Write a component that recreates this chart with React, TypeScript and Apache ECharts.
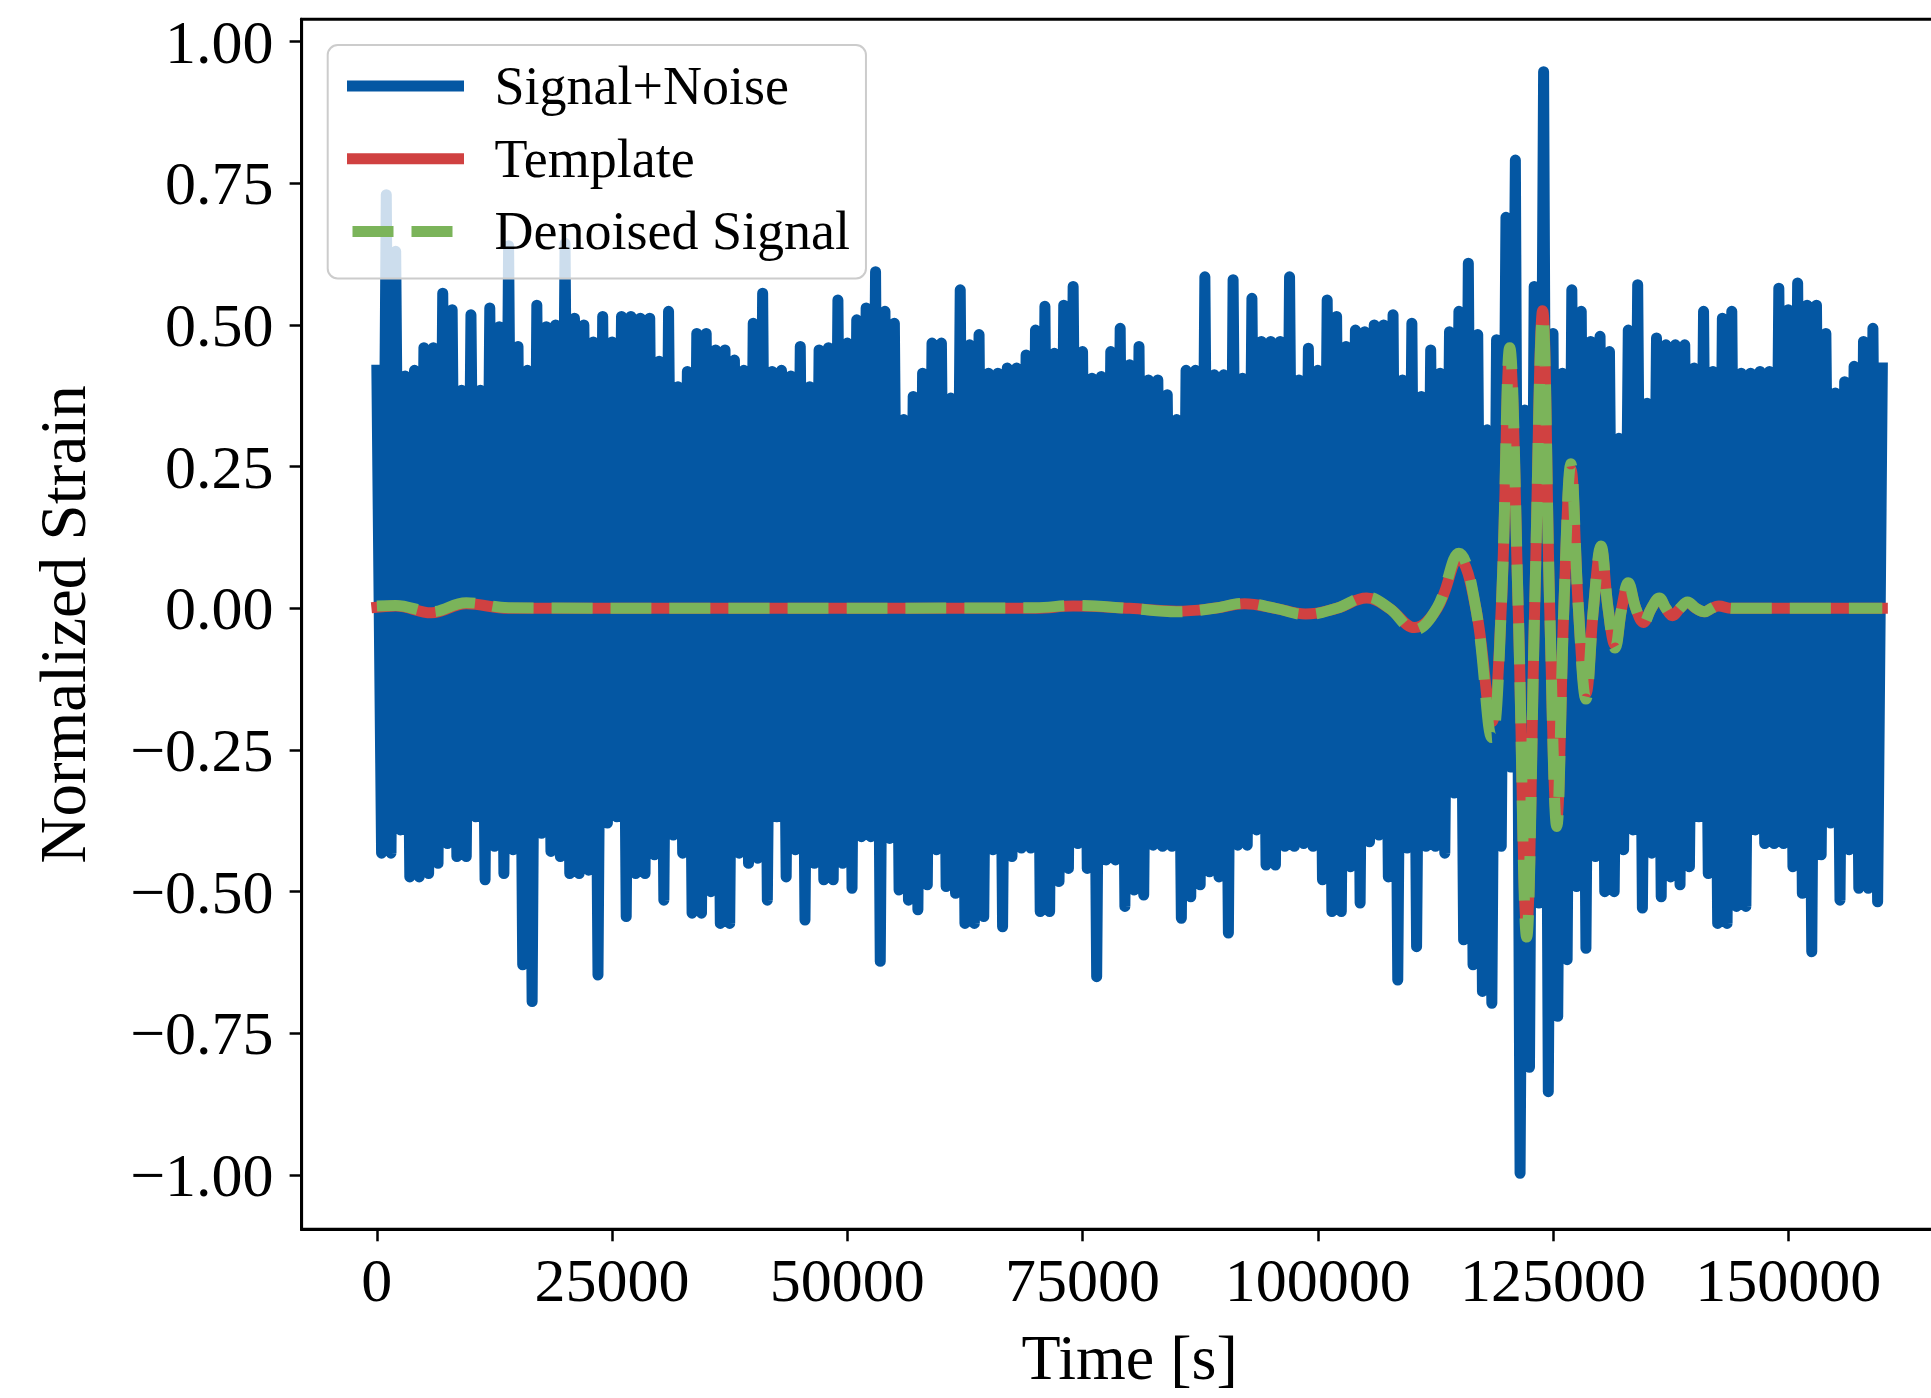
import React, { useEffect, useRef } from "react";
import * as echarts from "echarts";

// ---- data ----
// Signal+Noise envelope: upper extreme at t = k*1000 s, lower extreme at t = k*1000 + 500 s
const NOISE_STEP = 1000;
const noiseUpper = [
  0.42, 0.73, 0.63, 0.41, 0.42, 0.46, 0.46, 0.556, 0.527, 0.385,
  0.518, 0.385, 0.53, 0.497, 0.64, 0.462, 0.42, 0.535, 0.497, 0.5,
  0.644, 0.512, 0.5, 0.47, 0.515, 0.47, 0.515, 0.515, 0.512, 0.512,
  0.436, 0.524, 0.391, 0.418, 0.485, 0.485, 0.456, 0.456, 0.438, 0.42,
  0.503, 0.556, 0.418, 0.42, 0.41, 0.462, 0.391, 0.456, 0.46, 0.544,
  0.468, 0.509, 0.53, 0.594, 0.524, 0.503, 0.333, 0.374, 0.415, 0.468,
  0.468, 0.371, 0.562, 0.465, 0.483, 0.415, 0.415, 0.424, 0.424, 0.447,
  0.491, 0.533, 0.45, 0.535, 0.568, 0.453, 0.406, 0.409, 0.453, 0.494,
  0.43, 0.462, 0.403, 0.403, 0.377, 0.333, 0.42, 0.42, 0.585, 0.412,
  0.412, 0.58, 0.406, 0.547, 0.471, 0.471, 0.471, 0.585, 0.403, 0.459,
  0.42, 0.544, 0.515, 0.462, 0.491, 0.488, 0.5, 0.5, 0.518, 0.403,
  0.503, 0.374, 0.456, 0.415, 0.488, 0.524, 0.609, 0.483, 0.315, 0.474,
  0.69, 0.791, 0.35, 0.568, 0.947, 0.485, 0.415, 0.562, 0.524, 0.471,
  0.48, 0.453, 0.3, 0.491, 0.571, 0.362, 0.477, 0.465, 0.465, 0.465,
  0.424, 0.524, 0.418, 0.512, 0.524, 0.415, 0.415, 0.418, 0.418, 0.565,
  0.527, 0.574, 0.535, 0.535, 0.485, 0.38, 0.4, 0.427, 0.471, 0.494,
  0.424,
];
const noiseLower = [
  -0.432, -0.432, -0.391, -0.474, -0.474, -0.468, -0.45, -0.415, -0.438, -0.438,
  -0.368, -0.479, -0.42, -0.468, -0.426, -0.629, -0.694, -0.397, -0.429, -0.438,
  -0.468, -0.468, -0.462, -0.647, -0.379, -0.368, -0.544, -0.468, -0.468, -0.435,
  -0.515, -0.4, -0.432, -0.538, -0.538, -0.5, -0.556, -0.556, -0.432, -0.45,
  -0.441, -0.515, -0.368, -0.474, -0.426, -0.55, -0.45, -0.479, -0.479, -0.45,
  -0.494, -0.403, -0.403, -0.623, -0.406, -0.497, -0.515, -0.532, -0.488, -0.426,
  -0.491, -0.503, -0.556, -0.556, -0.544, -0.426, -0.562, -0.438, -0.423, -0.423,
  -0.535, -0.535, -0.482, -0.459, -0.415, -0.459, -0.65, -0.444, -0.444, -0.526,
  -0.497, -0.506, -0.418, -0.42, -0.42, -0.547, -0.509, -0.488, -0.465, -0.474,
  -0.573, -0.418, -0.418, -0.391, -0.453, -0.453, -0.42, -0.42, -0.415, -0.42,
  -0.479, -0.535, -0.535, -0.456, -0.52, -0.412, -0.4, -0.474, -0.656, -0.423,
  -0.597, -0.42, -0.42, -0.432, -0.326, -0.585, -0.629, -0.676, -0.697, -0.42,
  -0.28, -0.997, -0.81, -0.52, -0.853, -0.72, -0.62, -0.491, -0.6, -0.438,
  -0.5, -0.5, -0.426, -0.391, -0.529, -0.432, -0.509, -0.474, -0.488, -0.456,
  -0.368, -0.468, -0.556, -0.556, -0.526, -0.526, -0.391, -0.415, -0.415, -0.415,
  -0.456, -0.503, -0.606, -0.435, -0.379, -0.515, -0.426, -0.494, -0.494, -0.518,
];

// Template / denoised waveform (peaks, troughs and zero crossings)
const waveTime = [
  0, 2000, 5800, 9500, 14000, 40000, 70000, 74000, 80000, 85000,
  89000, 92200, 95500, 98700, 102000, 105200, 107600, 110300, 112700, 115000,
  116800, 118500, 119500, 120400, 121300, 122200, 123050, 123900, 124650, 125400,
  126150, 126900, 127700, 128500, 129300, 130100, 130850, 131600, 132300, 133000,
  133800, 134600, 135450, 136300, 137000, 137700, 138500, 139300, 140200, 141100,
  141850, 142600, 144000, 150000, 160000,
];
const templateValue = [
  0.002, 0.004, -0.008, 0.008, 0.0, 0.0, 0.0, 0.004, 0.0, -0.005,
  0.0, 0.008, 0.0, -0.01, 0.0, 0.018, 0.0, -0.034, 0.0, 0.088,
  0.0, -0.2, 0.0, 0.445, 0.0, -0.56, 0.0, 0.525, 0.0, -0.37,
  0.0, 0.245, 0.0, -0.15, 0.0, 0.105, 0.0, -0.065, 0.0, 0.042,
  0.0, -0.025, 0.0, 0.017, 0.0, -0.013, 0.0, 0.01, 0.0, -0.006,
  0.0, 0.004, 0.0, 0.0, 0.0,
];
const denoisedValue = [
  0.004, 0.005, -0.006, 0.01, 0.001, 0.0, 0.001, 0.005, 0.0, -0.006,
  0.0, 0.009, 0.0, -0.011, 0.0, 0.02, 0.0, -0.038, 0.002, 0.097,
  0.0, -0.228, 0.0, 0.46, 0.0, -0.58, 0.0, 0.515, 0.0, -0.385,
  0.0, 0.255, 0.0, -0.16, 0.0, 0.11, 0.0, -0.07, 0.0, 0.045,
  0.0, -0.027, 0.0, 0.018, 0.0, -0.014, 0.0, 0.011, 0.0, -0.006,
  0.0, 0.005, 0.0, 0.0, 0.0,
];

const xTicks = [0, 25000, 50000, 75000, 100000, 125000, 150000];
const yTicks = [-1, -0.75, -0.5, -0.25, 0, 0.25, 0.5, 0.75, 1];

const FONT = '"Liberation Serif", "DejaVu Serif", serif';
const BLUE = "#0457a3";
const RED = "#d04141";
const GREEN = "#7bb45a";

export default function App() {
  const ref = useRef<HTMLDivElement>(null);

  useEffect(() => {
    if (!ref.current) return;
    const chart = echarts.init(ref.current, null, { renderer: "svg" });

    const noiseData: [number, number][] = [];
    noiseUpper.forEach((u, k) => {
      noiseData.push([k * NOISE_STEP, u]);
      if (k < noiseLower.length) noiseData.push([k * NOISE_STEP + NOISE_STEP / 2, noiseLower[k]]);
    });
    const templateData = waveTime.map((t, i) => [t, templateValue[i]]);
    const denoisedData = waveTime.map((t, i) => [t, denoisedValue[i]]);

    const fmtY = (v: number) => (v < 0 ? "\u2212" : "") + Math.abs(v).toFixed(2);

    chart.setOption({
      animation: false,
      backgroundColor: "#ffffff",
      grid: {
        left: 301.6,
        top: 19.3,
        width: 1656,
        height: 1210,
        show: true,
        borderColor: "#000",
        borderWidth: 3,
        backgroundColor: "transparent",
        containLabel: false,
        outerBoundsMode: "none",
      },
      legend: {
        orient: "vertical",
        left: 327.7,
        top: 45,
        padding: [14, 16, 20, 19.3],
        itemWidth: 106,
        itemHeight: 20,
        itemGap: 18.7,
        selectedMode: false,
        backgroundColor: "rgba(255,255,255,0.8)",
        borderColor: "#cccccc",
        borderWidth: 2,
        borderRadius: 10,
        itemStyle: { opacity: 0 },
        lineStyle: { width: 11 },
        textStyle: {
          fontFamily: FONT,
          fontSize: 54,
          lineHeight: 54,
          color: "#000",
          padding: [0, 0, 0, 31],
        },
        data: ["Signal+Noise", "Template", "Denoised Signal"],
      },
      xAxis: {
        type: "value",
        min: -8000,
        max: 168000,
        name: "Time [s]",
        nameLocation: "middle",
        nameGap: 96,
        nameTextStyle: { fontFamily: FONT, fontSize: 64, lineHeight: 64, color: "#000" },
        axisLine: { show: true, onZero: false, lineStyle: { color: "#000", width: 3 } },
        axisTick: { show: true, length: 12, customValues: xTicks, lineStyle: { color: "#000", width: 2.5 } },
        axisLabel: {
          customValues: xTicks,
          margin: 20,
          fontFamily: FONT,
          fontSize: 62,
          lineHeight: 62,
          color: "#000",
          formatter: (v: number) => String(v),
        },
        splitLine: { show: false },
      },
      yAxis: {
        type: "value",
        min: -1.0958,
        max: 1.0394,
        name: "Normalized Strain",
        nameLocation: "middle",
        nameGap: 206,
        nameTextStyle: { fontFamily: FONT, fontSize: 65, lineHeight: 65, color: "#000" },
        axisLine: { show: true, onZero: false, lineStyle: { color: "#000", width: 3 } },
        axisTick: { show: true, length: 12, customValues: yTicks, lineStyle: { color: "#000", width: 2.5 } },
        axisLabel: {
          customValues: yTicks,
          margin: 28,
          fontFamily: FONT,
          fontSize: 62,
          lineHeight: 62,
          color: "#000",
          formatter: fmtY,
        },
        splitLine: { show: false },
      },
      series: [
        {
          name: "Signal+Noise",
          type: "line",
          data: noiseData,
          symbol: "none",
          silent: true,
          z: 1,
          itemStyle: { color: BLUE },
          lineStyle: { color: BLUE, width: 11, join: "round", cap: "square" },
          emphasis: { disabled: true },
        },
        {
          name: "Template",
          type: "line",
          data: templateData,
          smooth: 0.4,
          symbol: "none",
          silent: true,
          z: 2,
          itemStyle: { color: RED },
          lineStyle: { color: RED, width: 11, join: "round", cap: "square" },
          emphasis: { disabled: true },
        },
        {
          name: "Denoised Signal",
          type: "line",
          data: denoisedData,
          smooth: 0.4,
          symbol: "none",
          silent: true,
          z: 3,
          itemStyle: { color: GREEN },
          lineStyle: { color: GREEN, width: 11, type: [41, 18], cap: "butt", join: "round" },
          emphasis: { disabled: true },
        },
      ],
    });

    return () => chart.dispose();
  }, []);

  return (
    <div
      ref={ref}
      style={{ position: "absolute", left: 0, top: 0, width: "1931px", height: "1398px" }}
    />
  );
}
